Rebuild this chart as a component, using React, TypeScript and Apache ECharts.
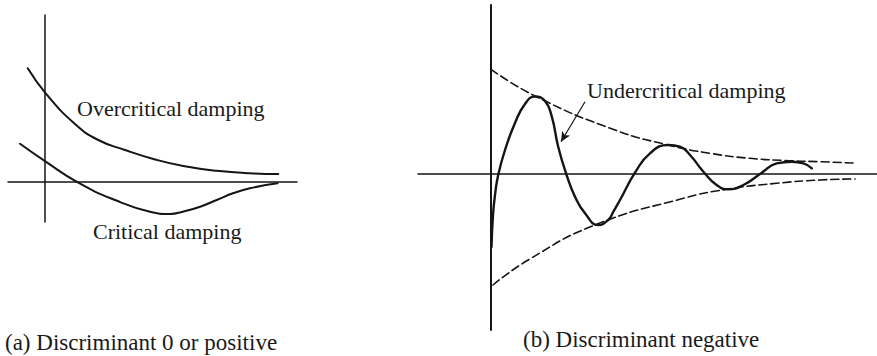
import React, { useEffect, useRef } from "react";
import * as echarts from "echarts";

// (a) Discriminant zero or positive: time / displacement samples
const overcriticalT = [-0.48, 0.02, 0.833, 1.48, 2.22, 3.06, 3.84, 4.77, 5.69, 6.48];
const overcriticalX = [2.264, 1.764, 1.15, 0.83, 0.63, 0.44, 0.31, 0.214, 0.164, 0.15];

const criticalT = [-0.694, 0.02, 0.925, 1.944, 2.917, 3.47, 3.83, 4.31, 4.77, 5.22, 5.69, 6.46];
const criticalX = [0.754, 0.396, -0.024, -0.37, -0.604, -0.65, -0.604, -0.504, -0.37, -0.236, -0.136, -0.036];

// (b) Discriminant negative: damped oscillation and its envelopes
const undercriticalT = [
  0.0125, 0.05, 0.1, 0.18, 0.35, 0.6, 0.85, 1.1, 1.35, 1.52, 1.68, 1.89, 2.1, 2.35, 2.68,
  2.93, 3.06, 3.225, 3.6, 3.975, 4.43, 4.725, 4.975, 5.31, 5.64, 5.93, 6.31, 6.77, 7.14,
  7.52, 7.81, 8.02,
];
const undercriticalX = [
  -1.46, -0.82, -0.42, -0.02, 0.48, 1.02, 1.4, 1.55, 1.46, 1.146, 0.546, -0.02, -0.454,
  -0.786, -1.02, -0.92, -0.754, -0.52, 0.026, 0.414, 0.58, 0.546, 0.38, 0.046, -0.22,
  -0.306, -0.22, 0.026, 0.214, 0.246, 0.214, 0.114,
];

const upperEnvT = [0, 1.1, 3.1, 4.43, 5.475, 6.475, 7.475, 8.225, 9.05];
const upperEnvX = [2.094, 1.56, 0.88, 0.58, 0.414, 0.314, 0.266, 0.246, 0.22];

const lowerEnvT = [0.05, 0.93, 2.6, 4.81, 5.89, 7.14, 8.225, 9.1];
const lowerEnvX = [-2.22, -1.72, -1.02, -0.486, -0.306, -0.186, -0.12, -0.1];

// Pointer from the label to the oscillation curve
const arrowFrom = [2.35, 1.446];
const arrowTo = [1.75, 0.646];

const zip = (a: number[], b: number[]) => a.map((v, i) => [v, b[i]]);

const INK = "#151515";
const FONT = "'Liberation Serif', 'DejaVu Serif', serif";

export default function App() {
  const ref = useRef<HTMLDivElement>(null);

  useEffect(() => {
    if (!ref.current) return;
    const chart = echarts.init(ref.current, undefined, { renderer: "svg" });

    const axisCommon = {
      type: "value" as const,
      splitLine: { show: false },
      axisTick: { show: false },
      axisLabel: { show: false },
    };

    const curve = (data: number[][], xi: number, dashed = false, width = 2) => ({
      type: "line",
      xAxisIndex: xi,
      yAxisIndex: xi,
      data,
      smooth: 0.5,
      symbol: "none",
      silent: true,
      lineStyle: { color: INK, width, type: dashed ? [8, 4] : "solid", cap: "round" },
    });

    const text = (s: string, left: number, top: number, size = 22) => ({
      type: "text",
      left,
      top,
      style: { text: s, fill: "#1a1a1a", font: `${size}px ${FONT}` },
    });

    chart.setOption({
      animation: false,
      backgroundColor: "#ffffff",
      grid: [
        { left: 8, top: 15, width: 289, height: 207 },
        { left: 418, top: 5, width: 459, height: 325 },
      ],
      xAxis: [
        {
          ...axisCommon,
          gridIndex: 0,
          min: -1.028,
          max: 7,
          axisLine: { onZero: true, lineStyle: { color: INK, width: 1.5 } },
        },
        {
          ...axisCommon,
          gridIndex: 1,
          min: -1.825,
          max: 9.65,
          axisLine: { onZero: true, lineStyle: { color: INK, width: 1.5 } },
        },
      ],
      yAxis: [
        {
          ...axisCommon,
          gridIndex: 0,
          min: -0.81,
          max: 3.33,
          axisLine: { onZero: true, lineStyle: { color: INK, width: 1.5 } },
        },
        {
          ...axisCommon,
          gridIndex: 1,
          min: -3.12,
          max: 3.38,
          axisLine: { onZero: true, lineStyle: { color: INK, width: 2 } },
        },
      ],
      series: [
        curve(zip(overcriticalT, overcriticalX), 0, false, 2),
        curve(zip(criticalT, criticalX), 0, false, 2),
        curve(zip(upperEnvT, upperEnvX), 1, true, 1.6),
        curve(zip(lowerEnvT, lowerEnvX), 1, true, 1.6),
        {
          ...curve(zip(undercriticalT, undercriticalX), 1, false, 2.4),
          markLine: {
            silent: true,
            symbol: ["none", "arrow"],
            symbolSize: [7, 10],
            label: { show: false },
            lineStyle: { color: INK, width: 1.2, type: "solid" },
            data: [[{ coord: arrowFrom }, { coord: arrowTo }]],
          },
        },
      ],
      graphic: [
        text("Overcritical damping", 77, 97.5),
        text("Critical damping", 93, 220.5),
        text("Undercritical damping", 587, 79.5),
        text("(a) Discriminant 0 or positive", 5, 331, 23),
        text("(b) Discriminant negative", 523, 327.5, 23),
      ],
    });

    return () => chart.dispose();
  }, []);

  return (
    <div
      ref={ref}
      style={{ position: "fixed", left: 0, top: 0, width: 877, height: 356, background: "#fff" }}
    />
  );
}
